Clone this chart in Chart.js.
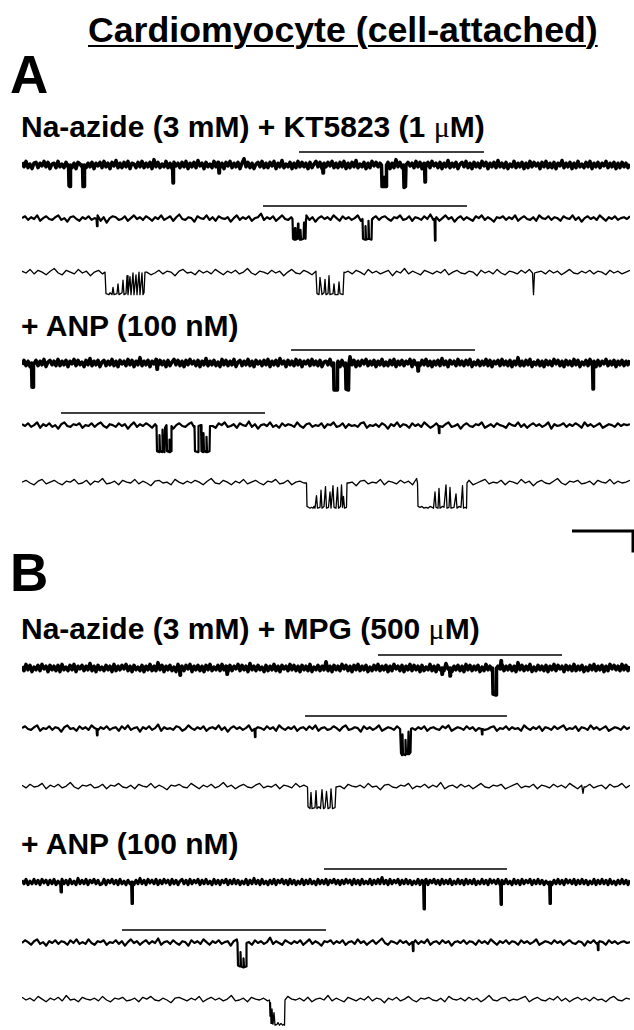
<!DOCTYPE html>
<html>
<head>
<meta charset="utf-8">
<title>Cardiomyocyte (cell-attached)</title>
<script src="https://cdn.jsdelivr.net/npm/chart.js"></script>
<style>
  html, body { margin: 0; padding: 0; background: #fff; }
  #page { position: relative; width: 634px; height: 1030px; overflow: hidden; background: #fff; }
  .lbl { position: absolute; white-space: nowrap; line-height: 1; color: #000;
         font-family: "Liberation Sans", Arial, Helvetica, sans-serif; font-weight: bold; }
  .mu { font-family: "Liberation Serif", "Times New Roman", serif; font-weight: normal; }
  canvas.trace { position: absolute; left: 22px; }
</style>
</head>
<body>
<div id="page">
  <div class="lbl" style="left:88px; top:13px; font-size:35.7px; text-decoration:underline; text-decoration-thickness:2px; text-underline-offset:3px;">Cardiomyocyte (cell-attached)</div>
  <div class="lbl" style="left:10px; top:48px; font-size:53px;">A</div>
  <div class="lbl" style="left:21px; top:112px; font-size:30px;">Na-azide (3 mM) + KT5823 (1 <span class="mu">μ</span>M)</div>
  <div class="lbl" style="left:21px; top:311px; font-size:30px;">+ ANP (100 nM)</div>
  <div class="lbl" style="left:10px; top:546px; font-size:53px;">B</div>
  <div class="lbl" style="left:21px; top:614px; font-size:30px;">Na-azide (3 mM) + MPG (500 <span class="mu">μ</span>M)</div>
  <div class="lbl" style="left:21px; top:829px; font-size:30px;">+ ANP (100 nM)</div>

  <canvas id="a1" class="trace" width="608" height="54" style="top:147px"></canvas>
  <canvas id="a2" class="trace" width="608" height="54" style="top:201px"></canvas>
  <canvas id="a3" class="trace" width="608" height="54" style="top:255px"></canvas>
  <canvas id="a4" class="trace" width="608" height="54" style="top:345px"></canvas>
  <canvas id="a5" class="trace" width="608" height="54" style="top:408px"></canvas>
  <canvas id="a6" class="trace" width="608" height="54" style="top:465px"></canvas>
  <canvas id="scalebar" width="63" height="40" style="position:absolute; left:571px; top:520px"></canvas>
  <canvas id="b1" class="trace" width="608" height="54" style="top:650px"></canvas>
  <canvas id="b2" class="trace" width="608" height="54" style="top:711px"></canvas>
  <canvas id="b3" class="trace" width="608" height="54" style="top:769px"></canvas>
  <canvas id="b4" class="trace" width="608" height="54" style="top:864px"></canvas>
  <canvas id="b5" class="trace" width="608" height="54" style="top:925px"></canvas>
  <canvas id="b6" class="trace" width="608" height="54" style="top:982px"></canvas>
</div>

<script>
// sweep length of every row (ms) and level of the bar drawn over a sweep (pA)
const TRACE_DURATION = 608;
const MARKER_LEVEL = 1.45;
// baseline arrays below are written in units of 0.1 pA
const NOISE_UNIT = 0.1;

// scale bar
const scaleBarMs = 61;
const scaleBarPa = 2.4;

// ---- baseline current, evenly spaced over the sweep (x 0.1 pA) ----
const noiseA1 = [3,-2,4,-3,1,-4,2,3,-3,2,-1,4,-2,3,-4,1,2,-3,4,-2,
  1,-3,3,-2,5,-3,2,-4,3,1,-2,4,-3,2,-2,3,-4,2,-1,3,
  -3,4,-2,2,-4,3,-1,5,-3,2,-3,3,-2,4,-4,2,1,-3,3,-2,
  4,-3,2,-2,3,-4,6,-2,3,-3,1,-2,4,-3,2,-4,3,-1,2,-3,
  3,-2,4,-4,2,-2,3,-3,5,-1,2,-4,3,-2,1,-3,4,-2,3,-3,
  2,-4,3,-1,4,-3,2,-2,3,-4,2,7,-2,3,-3,2,-4,1,3,-2,
  4,-3,2,-3,3,-1,4,-4,2,-2,5,-3,1,-2,3,-4,2,-3,4,-2,
  3,-2,2,-4,3,-3,1,4,-2,3,-4,2,-2,3,-1,4,-3,2,-3,3,
  -2,4,-4,2,-3,3,-2,5,-3,1,-2,3,-4,2,-3,4,-1,3,-2,2,
  -3,4,-2,3,-4,2,-3,6,-2,3,-3,2,-4,3,-1,2,-3,4,-2,3,
  -4,2,-2,3,-3,4,-1,2,-3,3,-4,2,-2,5,-3,2,-2,3,-4,1,
  3,-2,4,-3,2,-4,3,-2,2,-3,4,-1,3,-4,2,-2,3,-3,5,-2,
  2,-3,3,-4,1,-2,4,-3,2,-2,3,-4,2,-3,4,-2,3,-1,2,-4,
  3,-2,4,-3,2,-3,3,-4,2,-1,5,-3,2,-2,3,-4,2,-3,4,-2,
  1,-3,3,-2,4,-4,2,-2,3,-3,2,-1,4,-3,2,-2,3,-4,2,-3,
  3,-2,2,-3,1];
const noiseA2 = [1,3,-1,2,0,4,-2,1,3,0,-1,2,4,-1,1,-3,2,3,0,-2,
  2,0,3,-1,1,4,-2,2,-4,1,3,2,-1,0,3,-2,1,4,0,2,
  -1,3,1,-2,2,0,4,-1,1,3,-2,2,5,0,-1,2,1,-3,3,1,
  0,4,-1,2,-2,3,1,0,2,-3,1,4,-1,2,0,3,-2,1,2,6,
  -1,2,0,3,-2,1,4,0,-1,2,3,-2,1,0,4,-1,2,-3,1,3,
  0,2,-1,4,1,-2,3,0,2,-1,1,4,-2,2,0,-5,1,3,-1,2,
  3,0,-2,2,1,4,-1,0,3,-2,2,1,-1,3,0,5,-1,2,-2,1,
  4,0,2,-3,1,3,-1,2,0,-2,3,1,4,-1,2,0,-3,2,1,3,
  -1,2,0,4,-2,1,3,0,-1,2,-2,4,1,0,3,-1,2,1,-2,3,
  1,0,4,-1,2,-3,1,3,0,2,-1,4,1,-2,2,0,3,-1,1,2,
  0,3];
const noiseA3 = [2,0,4,-1,3,1,-2,2,5,0,-2,3,1,-1,4,0,2,-3,1,3,
  -1,2,0,4,-2,1,3,0,-1,2,5,1,-2,0,3,-1,2,1,-3,2,
  4,0,1,-2,3,0,2,-1,4,1,-2,2,0,3,-1,1,5,0,-2,2,
  1,-1,3,0,2,-3,1,4,0,-1,3,1,-2,2,0,4,-1,1,3,-2,
  0,2,-1,3,1,-2,4,0,2,-1,1,3,-3,2,0,5,-1,2,0,-2,
  3,1,-1,2,0,4,-2,1,3,0,-1,2,1,-3,3,0,2,-1,4,0,
  -2,2,1,-1,3,0,4,-2,1,2,-1,3,0,2,-2,1,4,0,-1,2,
  0,3,-1,2,1,-2,3,0,2,-1,1,3];
const noiseA4 = [-2,3,-3,2,-4,4,-1,3,-3,2,-2,4,-4,1,3,-2,2,-3,4,-3,
  2,-2,3,-4,2,-1,4,-3,3,-2,1,-4,3,-2,5,-3,2,-2,3,-4,
  1,3,-3,2,-2,4,-3,2,-4,3,-1,2,-3,4,-2,3,-4,2,-2,6,
  -3,2,-2,3,-4,2,-1,4,-3,3,-2,2,-4,3,-3,1,4,-2,3,-3,
  2,-4,3,-2,4,-1,2,-3,3,-4,2,-2,5,-3,2,-2,3,-3,1,-4,
  4,-2,3,-3,2,-2,4,-4,1,3,-3,2,-2,4,-3,2,-4,3,-1,2,
  -3,3,-2,4,-4,2,-2,3,-3,5,-1,2,-4,3,-2,2,-3,4,-2,3,
  -4,2,-1,3,-3,4,-2,2,-3,3,-4,1,2,-2,4,-3,3,-2,2,-4,
  3,-3,2,-2,7,-2,3,-4,2,-3,3,-1,4,-3,2,-2,3,-4,2,-2,
  4,-3,1,-3,3,-2,4,-4,2,-2,3,-3,2,-1,4,-4,3,-2,2,-3,
  3,-2,4,-3,2,-4,2,-2,3,-3,5,-2,2,-4,3,-1,2,-3,4,-2,
  2,-3,3,-2,4,-4,1,-2,3,-3,2,-2,4,-3,3,-4,2,-1,3,-3,
  4,-2,2,-3,3,-4,2,-2,6,-3,2,-3,3,-2,4,-4,1,-2,3,-3,
  2,-4,3,-2,2,-3,4,-1,3,-3,2,-4,3,-2,2,-3,4,-2,3,-4,
  1,-2,3,-3,4,-2,2,-4,3,-3,2,-1,4,-3,2,-2,3,-4,2,-2,
  3,-3,2,-2,3];
const noiseA5 = [2,0,3,-1,1,4,-2,2,0,3,-1,1,-3,2,4,0,-1,2,1,3,
  -2,1,0,3,-1,2,4,0,-2,2,1,-1,3,0,2,-3,1,4,-1,2,
  0,3,1,-2,2,0,4,-1,1,2,-3,1,3,0,-1,2,4,-2,1,0,
  3,-1,2,0,-2,3,1,4,-1,0,2,-2,3,1,0,5,-1,2,-3,1,
  2,0,4,-1,1,-2,3,0,2,1,-1,4,0,-2,2,3,-1,1,0,3,
  -2,2,1,4,-1,0,3,-2,2,0,1,-1,3,4,-2,1,0,2,-1,3,
  1,-3,2,0,4,-1,2,1,-2,3,0,2,-1,4,1,-2,0,3,1,-1,
  2,4,-1,0,2,-3,1,3,0,-1,2,1,4,-2,0,2,-1,3,1,0,
  -2,3,1,0,4,-1,2,-2,1,3,0,2,-1,1,4,-3,2,0,1,3,
  -1,2,0,3,1,-2,4,0,2,-1,1,3,-2,0,2,1,-1,3,0,2,
  1,2];
const noiseA6 = [1,3,0,-2,2,4,-1,1,3,0,-2,2,1,4,-1,0,3,-2,2,1,
  5,-1,0,2,-2,3,1,0,4,-1,2,0,-3,2,3,0,1,-2,4,1,
  -1,2,0,3,1,-2,2,5,0,-1,3,1,-2,2,0,4,-1,1,3,0,
  -2,2,1,4,-1,0,3,-2,1,2,0,5,-1,2,-2,1,3,0,2,-1,
  4,0,1,-3,2,3,-1,1,0,4,-2,2,1,-1,3,0,2,-2,5,1,
  -1,2,0,3,-2,1,4,0,2,-1,1,3,-2,0,2,4,-1,1,0,3,
  -2,2,1,-1,4,0,2,-3,1,3,0,-1,2,5,0,-2,2,1,3,-1,
  0,2,-2,3,1,0,4,-1,2,0,1,3];
const noiseB1 = [2,-3,4,-2,3,-4,1,-2,3,-3,4,-1,2,-4,3,-2,2,-3,3,-4,
  4,-2,1,-3,3,-2,4,-4,2,-1,3,-3,2,-2,5,-3,2,-4,3,-2,
  1,-3,3,-2,2,-4,4,-3,2,-2,3,-1,4,-3,2,-4,3,-2,1,-3,
  3,-4,2,-2,4,-3,2,-3,6,-2,3,-4,2,-2,3,-3,1,-4,4,-2,
  2,-3,3,-1,4,-4,2,-2,3,-3,2,-4,3,-2,4,-3,1,-2,3,-3,
  4,-2,2,-4,3,-3,2,-1,4,-3,3,-2,2,-4,5,-2,2,-3,3,-2,
  1,-4,3,-3,2,-2,4,-3,2,-4,3,-1,2,-3,4,-2,3,-3,2,-4,
  3,-2,2,-3,4,-4,1,-2,3,-3,2,-2,7,-3,2,-4,3,-2,2,-3,
  4,-1,3,-3,2,-4,3,-2,4,-3,2,-2,3,-4,1,-3,3,-2,4,-3,
  2,-2,3,-4,2,-3,4,-1,2,-3,3,-4,2,-2,4,-3,3,-2,2,-4,
  3,-3,1,-2,4,-3,2,-4,3,-2,2,-3,5,-1,3,-4,2,-2,3,-3,
  2,-4,4,-2,3,-3,2,-2,3,-4,1,-3,4,-2,2,-3,3,-4,2,-1,
  4,-3,2,-2,3,-3,2,-4,6,-2,3,-3,2,-2,4,-4,1,-3,3,-2,
  2,-3,3,-4,2,-2,4,-3,3,-1,2,-4,3,-2,2,-3,4,-3,2,-2,
  3,-4,1,-3,3,-2,4,-3,2,-2,3,-4,2,-3,4,-1,3,-2,2,-3,
  4,-2,3,-3,2];
const noiseB2 = [1,3,0,-1,2,4,-2,1,0,3,-1,2,1,-3,2,4,0,1,-2,3,
  0,2,-1,4,1,-2,2,0,3,-1,1,2,-2,3,0,4,-1,1,2,-3,
  2,0,3,-1,1,5,-2,2,0,1,-1,3,2,-2,0,4,1,-1,2,0,
  3,-2,1,2,0,4,-1,2,-3,1,3,0,2,-1,1,4,-2,0,2,1,
  -1,3,0,2,-2,4,1,-1,2,0,3,-2,1,2,-1,3,0,4,-2,1,
  2,-1,0,3,1,-2,2,4,-1,0,2,1,-3,3,0,2,-1,1,4,-2,
  0,2,1,-1,3,0,2,-2,4,1,-1,2,0,3,-2,1,2,0,-1,3,
  1,4,-2,0,2,1,-1,3,0,2,-2,1,4,-1,0,2,3,-2,1,0,
  3,-1,2,0,1,-2,4,1,-1,2,0,3,-2,2,1,-1,3,0,2,4,
  -1,1,0,3,-2,2,1,-1,4,0,2,-1,1,3,-2,0,2,1,-1,3,
  0,2];
const noiseB3 = [2,-1,3,0,1,4,-2,2,0,3,-1,1,5,0,-2,2,1,3,-1,0,
  3,-2,2,1,4,0,-1,2,-2,3,1,0,4,-1,2,0,-3,2,1,3,
  0,-1,4,1,-2,2,0,3,-1,1,5,0,2,-2,1,3,0,-1,2,4,
  -1,1,0,3,-2,2,1,-1,4,0,2,-2,1,3,0,2,-1,5,0,1,
  -2,3,1,0,2,-1,4,0,1,-3,2,3,0,-1,2,1,4,-2,1,0,
  3,-1,2,0,5,-2,1,2,-1,3,0,2,-2,1,4,0,-1,2,1,3,
  -2,0,2,4,-1,1,0,3,-2,2,1,-1,3,0,2,-1,4,1,-2,2,
  0,3,-1,1,2,-2,3,0,1,4,-1,2];
const noiseB4 = [2,-2,3,-3,1,-2,3,-2,2,-3,3,-1,2,-3,2,-2,3,-3,1,-2,
  3,-2,2,-3,3,-2,1,-3,4,-2,2,-2,3,-3,2,-1,3,-2,2,-3,
  -2,3,-3,2,-1,3,-2,2,-3,3,-2,1,-3,2,-2,3,-3,2,-2,4,
  -2,2,-3,3,-1,2,-2,3,-3,2,-2,3,-1,2,-3,3,-2,2,-3,1,
  3,-2,2,-3,3,-2,2,-1,3,-3,2,-2,3,-2,1,-3,3,-2,2,-3,
  2,-1,3,-3,2,-2,3,-2,2,-3,1,-2,3,-3,2,-2,4,-2,2,-3,
  3,-2,1,-3,2,-2,3,-3,2,-1,3,-2,2,-3,3,-2,2,-3,1,-2,
  3,-3,2,-2,3,-2,1,-3,3,-2,2,-2,3,-3,2,-1,3,-2,2,-3,
  2,-2,3,-1,2,-3,3,-2,2,-3,3,-2,1,-2,3,-3,2,-2,3,-2,
  5,-2,2,-3,3,-2,2,-1,3,-3,2,-2,3,-2,2,-3,1,-2,3,-3,
  2,-2,3,-3,2,-1,3,-2,2,-3,3,-2,2,-2,3,-3,1,-2,3,-2,
  2,-3,3,-2,2,-2,3,-3,1,-2,3,-2,2,-3,3,-1,2,-2,3,-3,
  2,-2,3,-2,1,-3,3,-2,2,-3,3,-2,2,-1,3,-3,2,-2,3,-2,
  2,-3,1,-2,3,-3,2,-2,3,-2,2,-3,3,-1,2,-2,3,-3,2,-2,
  3,-2,2,-3,1,-2,3,-3,2,-2,3,-2,2,-3,3,-2,1,-3,2,-2,
  3,-2,2,-3,2];
const noiseB5 = [0,3,1,-2,2,4,-1,1,-3,2,0,3,-1,2,1,-2,3,0,4,-1,
  1,-1,4,0,-2,2,1,3,-2,1,0,3,-1,2,-3,1,4,0,2,-2,
  1,3,-1,2,0,5,-2,1,2,-1,3,0,-2,2,1,-3,3,0,2,-1,
  4,1,-2,2,0,3,-1,1,2,-3,2,4,-1,0,2,1,-2,3,0,2,
  -1,1,6,-1,2,0,-2,3,1,-1,2,0,3,-2,1,4,-1,2,0,-3,
  2,1,3,-1,2,0,3,-2,1,2,-1,4,0,2,-2,1,3,-1,2,5,
  0,-2,2,1,-1,3,0,2,-2,1,3,-1,2,0,4,-2,1,2,-1,3,
  0,2,-3,1,2,0,3,-1,2,1,-2,3,0,2,-1,4,1,-2,2,0,
  3,-1,2,1,-2,3,0,2,-1,1,4,-2,0,2,1,-1,3,0,2,-2,
  1,3,0,-1,2,1,-3,2,0,3,-1,2,1,-2,3,0,2,-1,1,2,
  0,1];
const noiseB6 = [3,0,2,-1,4,1,-2,2,0,3,-1,5,0,1,-2,3,1,0,2,-1,
  4,0,-2,2,1,3,-1,0,2,-2,3,1,4,0,-1,2,0,-3,2,3,
  1,-1,2,0,4,-2,1,3,0,2,-1,1,5,-1,0,2,-2,3,1,0,
  2,-1,3,0,1,-2,4,1,0,2,-1,3,-2,1,2,0,5,-1,2,0,
  -2,3,1,-1,2,0,4,-1,2,1,-3,2,0,3,-1,1,4,0,-2,2,
  1,3,0,-1,2,-2,4,1,0,2,-1,3,0,2,-2,1,5,0,-1,2,
  3,-1,1,0,2,4,-2,1,3,0,-1,2,0,4,-1,2,-2,1,3,0,
  2,-1,3,0,1,-2,2,4,0,-1,2,1];

// ---- channel openings: [time ms, current pA] ----
const eventsA1 = [
  [[46.5,0],[47,-2.3],[48,-2.4],[48.5,0]],
  [[60.5,0],[61,-2.4],[62,-2.4],[62.5,0]],
  [[150.5,0],[151,-2.0],[151.5,0]],
  [[196.5,0],[197,-0.9],[197.5,0]],
  [[300.5,0],[301,-0.9],[301.5,0]],
  [[359.5,0],[360,-2.4],[361.5,-2.4],[362,-1.4],[362.5,-2.4],[364,-2.4],[364.5,0]],
  [[381.5,0],[382,-2.5],[383.5,-2.4],[384,0]],
  [[402.5,0],[403,-1.9],[403.5,0]]
];
const eventsA2 = [
  [[74.5,0],[75,-0.8],[75.5,0]],
  [[270.5,0],[271,-2.2],[272.5,-2.3],[273,-1.0],[273.5,-2.3],[275.5,-2.2],[276,-0.5],[276.5,-2.1],[278,-2.3],[278.5,-1.2],[279,-2.3],[281.5,-2.2],[282,-0.4],[282.5,-2.1],[283.5,-2.2],[284,0]],
  [[340.5,0],[341,-2.2],[343,-2.3],[343.5,-0.8],[344,-2.3],[346,-2.2],[346.5,-0.2],[347,-2.2],[349.5,-2.3],[350,0]],
  [[412.5,0],[413,-2.4],[413.5,0]]
];
const eventsA3 = [
  [[83,0.1],[84,-2.3],[87,-2.4],[88,-2.2],[90,-2.4],[91,-1.6],[92,-2.4],[95,-2.3],[96,-1.2],[97,-2.4],[100,-2.2],[101,-0.8],[102,-2.4],[104,-2.3],[105,-0.3],[106,-2.4],[108,-0.4],[109,-2.4],[111,0],[112,-2.4],[114,-0.2],[115,-2.4],[117,0.1],[118,-2.4],[120,0],[121,-2.4],[122,-2.2],[123,0.1]],
  [[294,0],[295,-2.3],[297,-2.4],[298,-0.5],[300,-2.4],[302,-2.2],[303,-0.7],[304,-2.4],[306,-2.3],[307,-0.3],[308,-2.4],[311,-2.3],[312,-1.2],[313,-2.4],[316,-2.4],[317,-1.0],[318,-2.3],[321,-2.4],[322,0.1]],
  [[510.5,0],[511.5,-2.4],[512.5,0]]
];
const eventsA4 = [
  [[9.5,0],[10,-2.7],[11,-2.7],[11.5,0]],
  [[134.5,0],[135,-0.7],[135.5,0]],
  [[311.5,0],[312,-3.0],[315,-3.0],[315.5,0]],
  [[323.5,0],[324,-2.9],[326.5,-3.0],[327,0]],
  [[395.5,0],[396,-0.9],[396.5,0]],
  [[570.5,0],[571,-2.9],[571.5,0]]
];
const eventsA5 = [
  [[134.5,0],[135,-2.8],[137,-2.9],[137.5,-1.0],[138,-2.8],[140,-2.9],[140.5,-0.4],[141,-2.8],[142.5,-2.9],[143,-0.2],[144.5,0.1],[145,-2.8],[147,-2.9],[147.5,-1.5],[148,-2.9],[149,-2.8],[149.5,0]],
  [[172.5,0],[173,-2.8],[176,-2.9],[176.5,0],[179,0.1],[179.5,-2.8],[181,-2.9],[181.5,-0.8],[182,-2.8],[184,-2.9],[184.5,-1.2],[185,-2.9],[187.5,-2.8],[188,0]],
  [[416.5,0],[417,-0.8],[417.5,0]]
];
const eventsA6 = [
  [[284.5,0],[285,-2.6],[286.5,-2.7],[288,-2.8],[289.5,-2.7],[291,-2.8],[292,-2.6],[293,-2.8],[294.5,-1.4],[295.5,-2.8],[298,-2.7],[299,-0.8],[300,-2.8],[302,-2.6],[303.5,-0.4],[304.5,-2.8],[306.5,-2.7],[308,-1.0],[309,-2.8],[311,-0.3],[312,-2.7],[314,-2.8],[315.5,-0.5],[316.5,-2.8],[318.5,-2.6],[319.5,-0.2],[320.5,-2.7],[321.5,-1.5],[322.5,-2.8],[324.5,-2.7],[325,0]],
  [[395.5,0],[396,-2.6],[398,-2.7],[400,-2.6],[402,-2.8],[404,-2.7],[406,-2.8],[408,-2.6],[410,-2.7],[411.5,-2.8],[413,-1.0],[414,-2.7],[416,-2.8],[417,-0.6],[418,-2.8],[420.5,-2.6],[422,-2.7],[424,-0.2],[425,-2.8],[427,-2.7],[428,-0.5],[429,-2.8],[432,-2.7],[434,-1.2],[435,-2.8],[437,-2.6],[439,-2.7],[440.5,-0.3],[441.5,-2.8],[443,-2.7],[444.5,-2.8],[445,0]]
];
const eventsB1 = [
  [[157.5,0],[158,-0.8],[158.5,0]],
  [[204.5,0],[205,-0.7],[205.5,0]],
  [[419.5,0],[420,-0.7],[420.5,0]],
  [[427.5,0],[428,-0.9],[428.5,0]],
  [[470.5,0],[471,-2.9],[474,-3.0],[474.5,0]],
  [[478.5,0],[479,0.8],[479.5,0]]
];
const eventsB2 = [
  [[74.5,0],[75,-0.7],[75.5,0]],
  [[232.5,0],[233,-0.9],[233.5,0]],
  [[378.5,0],[379,-2.7],[380,-2.9],[380.5,-0.6],[381,-2.8],[383,-2.9],[383.5,-1.2],[384,-2.7],[386,-2.8],[386.5,-0.3],[387,-2.8],[388.5,-2.6],[389,0]],
  [[459.5,0],[460,-0.6],[460.5,0]]
];
const eventsB3 = [
  [[285.5,0],[286,-2.2],[288,-2.4],[289,-0.6],[290,-2.4],[293,-2.3],[294,-0.4],[295,-2.4],[297,-2.2],[298.5,-2.4],[300,-0.3],[301.5,-2.4],[303,-2.3],[304.5,-0.5],[306,-2.4],[308,-2.3],[309,-0.2],[310.5,-2.4],[313,-2.3],[314,0]],
  [[560,0],[561,-0.7],[562,0]]
];
const eventsB4 = [
  [[38.5,0],[39,-1.1],[39.5,0]],
  [[109.5,0],[110,-2.4],[110.5,0]],
  [[401.5,0],[402,-3.0],[402.5,0]],
  [[478.5,0],[479,-2.5],[479.5,0]],
  [[527.5,0],[528,-2.4],[528.5,0]]
];
const eventsB5 = [
  [[215.5,0],[216,-2.5],[218,-2.6],[218.5,-1.0],[219,-2.6],[221,-2.7],[221.5,-1.7],[222,-2.7],[224,-2.6],[224.5,0]],
  [[390.5,0],[391,-0.9],[391.5,0]],
  [[575.5,0],[576,-0.8],[576.5,0]]
];
const eventsB6 = [
  [[247.5,0],[248,-1.8],[248.5,-0.3],[249,-2.6],[250,-1.0],[251,-2.7],[252,-1.4],[253,-2.8],[255,-2.7],[256,-2.5],[257.5,-2.8],[259,-2.6],[260.5,-2.8],[262,-2.7],[262.5,-2.8],[263,0]]
];

// ---- bars above sweeps: [start ms, end ms] ----
const markerA1 = [277, 462];
const markerA2 = [241, 445];
const markerA4 = [269, 453];
const markerA5 = [39, 243];
const markerB1 = [356, 540];
const markerB2 = [283, 485];
const markerB4 = [302, 485];
const markerB5 = [100, 304];

// lw: stroke width of the sweep
const rows = [
  { id: 'a1', noise: noiseA1, events: eventsA1, marker: markerA1, lw: 3.5 },
  { id: 'a2', noise: noiseA2, events: eventsA2, marker: markerA2, lw: 2.2 },
  { id: 'a3', noise: noiseA3, events: eventsA3, marker: null, lw: 1.3 },
  { id: 'a4', noise: noiseA4, events: eventsA4, marker: markerA4, lw: 3.5 },
  { id: 'a5', noise: noiseA5, events: eventsA5, marker: markerA5, lw: 2.2 },
  { id: 'a6', noise: noiseA6, events: eventsA6, marker: null, lw: 1.3 },
  { id: 'b1', noise: noiseB1, events: eventsB1, marker: markerB1, lw: 3.5 },
  { id: 'b2', noise: noiseB2, events: eventsB2, marker: markerB2, lw: 2.2 },
  { id: 'b3', noise: noiseB3, events: eventsB3, marker: null, lw: 1.3 },
  { id: 'b4', noise: noiseB4, events: eventsB4, marker: markerB4, lw: 3.0 },
  { id: 'b5', noise: noiseB5, events: eventsB5, marker: markerB5, lw: 2.2 },
  { id: 'b6', noise: noiseB6, events: eventsB6, marker: null, lw: 1.3 }
];

// baseline samples, with the stretches covered by an opening replaced by that opening
function buildTrace(noise, events) {
  const step = TRACE_DURATION / (noise.length - 1);
  const windows = events.map(ev => [ev[0][0], ev[ev.length - 1][0]]);
  const pts = noise.map((v, i) => ({ x: i * step, y: v * NOISE_UNIT }))
    .filter(p => !windows.some(w => p.x >= w[0] && p.x <= w[1]));
  events.forEach(ev => ev.forEach(([x, y]) => pts.push({ x, y })));
  pts.sort((a, b) => a.x - b.x);
  return pts;
}

const lineSet = (data, w) => ({
  data, showLine: true, borderColor: '#000', backgroundColor: '#000',
  borderWidth: w, borderJoinStyle: 'round', pointRadius: 0, tension: 0, fill: false
});

rows.forEach(r => {
  const datasets = [lineSet(buildTrace(r.noise, r.events), r.lw)];
  if (r.marker) {
    datasets.push(Object.assign(lineSet(r.marker.map(t => ({ x: t, y: MARKER_LEVEL })), 1.4),
      { borderCapStyle: 'butt' }));
  }
  new Chart(document.getElementById(r.id), {
    type: 'scatter',
    data: { datasets },
    options: {
      responsive: false, animation: false, events: [],
      layout: { padding: 0, autoPadding: false },
      plugins: { legend: { display: false }, tooltip: { enabled: false } },
      scales: {
        x: { type: 'linear', display: false, min: 0, max: TRACE_DURATION },
        y: { display: false, min: -4, max: 2 }
      }
    }
  });
});

// scale bar
new Chart(document.getElementById('scalebar'), {
  type: 'scatter',
  data: { datasets: [Object.assign(lineSet([
    { x: 0, y: 0 }, { x: scaleBarMs, y: 0 }, { x: scaleBarMs, y: -scaleBarPa }
  ], 3), { borderJoinStyle: 'miter', borderCapStyle: 'butt' })] },
  options: {
    responsive: false, animation: false, events: [],
    layout: { padding: 0, autoPadding: false },
    plugins: { legend: { display: false }, tooltip: { enabled: false } },
    scales: {
      x: { type: 'linear', display: false, min: -1, max: 62 },
      y: { display: false, min: -29 / 9, max: 11 / 9 }
    }
  }
});
</script>
</body>
</html>
